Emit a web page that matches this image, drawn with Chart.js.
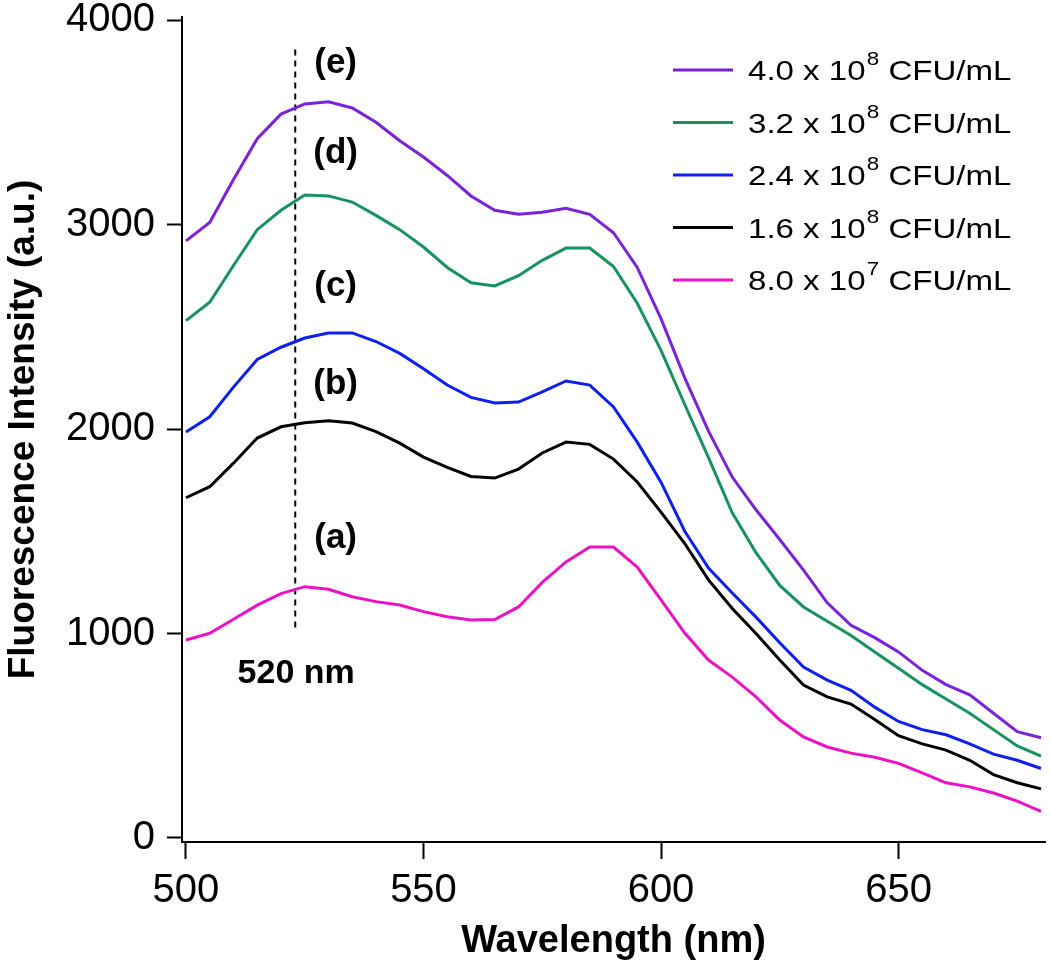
<!DOCTYPE html>
<html>
<head>
<meta charset="utf-8">
<script src="https://cdn.jsdelivr.net/npm/chart.js@4.4.0/dist/chart.umd.min.js"></script>
<style>
  html, body { margin: 0; padding: 0; background: #fff; }
  canvas { display: block; }
</style>
</head>
<body>
<canvas id="spectraChart" width="1050" height="964"></canvas>
<script>
// wavelength (nm)
const wavelengths = [500, 505, 510, 515, 520, 525, 530, 535, 540, 545,
                     550, 555, 560, 565, 570, 575, 580, 585, 590, 595,
                     600, 605, 610, 615, 620, 625, 630, 635, 640, 645,
                     650, 655, 660, 665, 670, 675, 680];

// fluorescence intensity (a.u.)
const conc40e8 = [2920, 3010, 3220, 3420, 3540, 3590, 3600, 3570, 3500, 3410,
                  3330, 3240, 3140, 3070, 3050, 3060, 3080, 3050, 2960, 2790,
                  2540, 2250, 1990, 1765, 1605, 1460, 1310, 1150, 1040, 980,
                  910, 820, 750, 700, 610, 520, 490];
const conc32e8 = [2530, 2620, 2800, 2975, 3070, 3145, 3140, 3110, 3045, 2975,
                  2890, 2790, 2715, 2700, 2750, 2825, 2885, 2885, 2795, 2615,
                  2385, 2120, 1860, 1590, 1395, 1235, 1130, 1060, 990, 910,
                  830, 750, 680, 610, 530, 450, 400];
const conc24e8 = [1985, 2060, 2205, 2340, 2400, 2445, 2470, 2470, 2428, 2370,
                  2295, 2215, 2155, 2127, 2132, 2182, 2235, 2215, 2108, 1936,
                  1740, 1500, 1320, 1198, 1080, 955, 836, 772, 722, 640,
                  570, 530, 505, 460, 410, 380, 340];
const conc16e8 = [1664, 1718, 1833, 1956, 2011, 2031, 2040, 2029, 1987, 1931,
                  1863, 1812, 1768, 1760, 1804, 1883, 1936, 1925, 1853, 1741,
                  1594, 1440, 1262, 1122, 1000, 870, 748, 690, 655, 580,
                  500, 460, 430, 380, 310, 270, 240];
const conc80e7 = [968, 1001, 1070, 1139, 1195, 1229, 1216, 1180, 1156, 1139,
                  1107, 1082, 1066, 1068, 1130, 1250, 1350, 1423, 1423, 1325,
                  1164, 1002, 870, 787, 690, 577, 494, 445, 415, 395,
                  365, 318, 270, 250, 220, 180, 130];

const seriesLabels = ['4.0 x 10⁸ CFU/mL', '3.2 x 10⁸ CFU/mL', '2.4 x 10⁸ CFU/mL',
                      '1.6 x 10⁸ CFU/mL', '8.0 x 10⁷ CFU/mL'];
const legendMantissa = ['4.0', '3.2', '2.4', '1.6', '8.0'];
const legendExponent = ['8', '8', '8', '8', '7'];
const seriesColors = ['#7b22d9', '#17925d', '#0d20ec', '#000000', '#ec12c4'];

const xTicks = [500, 550, 600, 650];
const yTicks = [0, 1000, 2000, 3000, 4000];

// 520 nm marker line and curve tags (data coordinates)
const markerLineX = [523, 523];
const markerLineY = [1030, 3880];
const curveTags = ['(e)', '(d)', '(c)', '(b)', '(a)'];
const curveTagX = [531.5, 531.5, 531.5, 531.5, 531.5];
const curveTagY = [3790, 3350, 2700, 2220, 1465];
const markerText = '520 nm';
const markerTextPos = [523.2, 805];

const FONT = "'Liberation Sans', Arial, Helvetica, sans-serif";

const allSeries = [conc40e8, conc32e8, conc24e8, conc16e8, conc80e7];

const datasets = allSeries.map((vals, i) => ({
    label: seriesLabels[i],
    data: wavelengths.map((w, j) => ({ x: w, y: vals[j] })),
    borderColor: seriesColors[i],
    backgroundColor: seriesColors[i],
    borderWidth: 3,
    pointRadius: 0,
    tension: 0,
    fill: false
}));

datasets.push({
    label: 'marker',
    data: markerLineX.map((x, j) => ({ x: x, y: markerLineY[j] })),
    borderColor: '#000',
    borderWidth: 2,
    borderDash: [6, 5],
    pointRadius: 0,
    fill: false
});

// tags, marker text and legend with superscripts
const textPlugin = {
    id: 'textPlugin',
    afterDatasetsDraw(chart) {
        const ctx = chart.ctx;
        const xs = chart.scales.x;
        const ys = chart.scales.y;
        ctx.save();
        ctx.fillStyle = '#000';
        ctx.textAlign = 'center';
        ctx.textBaseline = 'middle';
        ctx.font = 'bold 35px ' + FONT;
        curveTags.forEach((t, i) => {
            ctx.fillText(t, xs.getPixelForValue(curveTagX[i]), ys.getPixelForValue(curveTagY[i]));
        });
        ctx.font = 'bold 34px ' + FONT;
        ctx.fillText(markerText, xs.getPixelForValue(markerTextPos[0]), ys.getPixelForValue(markerTextPos[1]));

        // legend
        const lx0 = 673, lx1 = 733, tx = 748, rowY0 = 70, rowGap = 52.5;
        ctx.textAlign = 'left';
        ctx.textBaseline = 'alphabetic';
        legendMantissa.forEach((m, i) => {
            const y = rowY0 + i * rowGap;
            ctx.strokeStyle = seriesColors[i];
            ctx.lineWidth = 3;
            ctx.beginPath();
            ctx.moveTo(lx0, y);
            ctx.lineTo(lx1, y);
            ctx.stroke();

            ctx.save();
            ctx.translate(tx, y + 10);
            ctx.scale(1.18, 1);
            ctx.font = '28px ' + FONT;
            let x = 0;
            const head = m + ' x 10';
            ctx.fillText(head, x, 0);
            x += ctx.measureText(head).width;
            ctx.font = '19px ' + FONT;
            ctx.fillText(legendExponent[i], x + 1, -15);
            x += ctx.measureText(legendExponent[i]).width + 1;
            ctx.font = '28px ' + FONT;
            ctx.fillText(' CFU/mL', x, 0);
            ctx.restore();
        });
        ctx.restore();
    }
};

const ctxSpectra = document.getElementById('spectraChart').getContext('2d');
const spectraChart = new Chart(ctxSpectra, {
    type: 'line',
    data: { datasets: datasets },
    plugins: [textPlugin],
    options: {
        responsive: false,
        animation: false,
        layout: { padding: { left: 0, right: 5, top: 17, bottom: 0 } },
        plugins: {
            legend: { display: false },
            tooltip: { enabled: false }
        },
        scales: {
            x: {
                type: 'linear',
                min: 499.16,
                max: 680.84,
                afterBuildTicks: axis => { axis.ticks = xTicks.map(v => ({ value: v })); },
                afterFit: axis => {
                    axis.height = 122;
                    axis.paddingLeft = 0;
                    axis.paddingRight = 0;
                },
                ticks: {
                    color: '#000',
                    font: { family: FONT, size: 40 },
                    padding: 8,
                    maxRotation: 0,
                    callback: v => String(v)
                },
                grid: {
                    display: true,
                    drawOnChartArea: false,
                    drawTicks: true,
                    tickLength: 17,
                    tickColor: '#000',
                    tickWidth: 2
                },
                border: { display: true, color: '#000', width: 2 },
                title: {
                    display: true,
                    text: 'Wavelength (nm)',
                    color: '#000',
                    font: { family: FONT, size: 38, weight: 'bold' },
                    padding: { top: 0, bottom: 0 }
                }
            },
            y: {
                type: 'linear',
                min: -19.6,
                max: 4015,
                afterBuildTicks: axis => { axis.ticks = yTicks.map(v => ({ value: v })); },
                afterFit: axis => {
                    axis.width = 182;
                    axis.paddingTop = 0;
                    axis.paddingBottom = 0;
                },
                ticks: {
                    color: '#000',
                    font: { family: FONT, size: 40 },
                    padding: 12,
                    callback: v => String(v)
                },
                grid: {
                    display: true,
                    drawOnChartArea: false,
                    drawTicks: true,
                    tickLength: 15,
                    tickColor: '#000',
                    tickWidth: 2
                },
                border: { display: true, color: '#000', width: 2 },
                title: {
                    display: true,
                    text: 'Fluorescence Intensity (a.u.)',
                    color: '#000',
                    font: { family: FONT, size: 37, weight: 'bold' },
                    padding: { top: 2, bottom: 0 }
                }
            }
        }
    }
});
</script>
</body>
</html>
